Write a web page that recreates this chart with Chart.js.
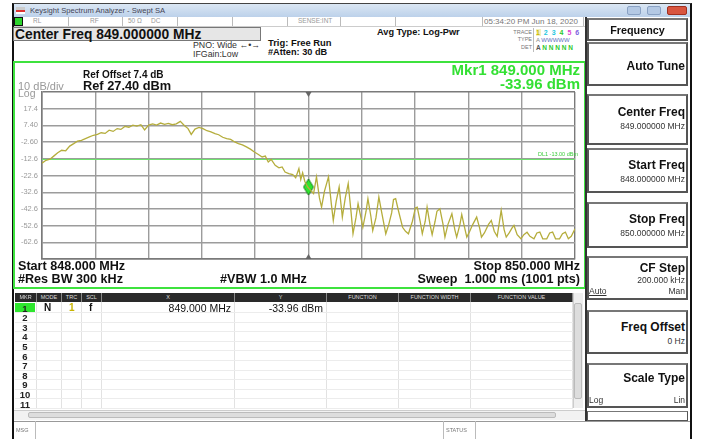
<!DOCTYPE html>
<html lang="en">
<head>
<meta charset="UTF-8">
<script src="https://cdn.jsdelivr.net/npm/chart.js"></script>
<title>Keysight Spectrum Analyzer - Swept SA</title>
<style>
  body { margin:0; width:701px; height:439px; background:#fff; font-family:"Liberation Sans", Arial, sans-serif; position:relative; overflow:hidden; color:#111; }
  .a { position:absolute; white-space:nowrap; line-height:1; }
  .b { font-weight:bold; }
  .r { text-align:right; }
  .box { position:absolute; box-sizing:border-box; }
  .sk { position:absolute; left:587px; width:101px; box-sizing:border-box; border:2px solid #555; border-top-color:#777; background:#fff; }
  .sk .t { position:absolute; right:1px; font-weight:bold; font-size:12px; line-height:1; white-space:nowrap; }
  .sk .v { position:absolute; right:1px; font-size:8.5px; line-height:1; color:#333; white-space:nowrap; }
  .sep { position:absolute; top:17px; height:9px; width:1px; background:#bbb; }
  .st { position:absolute; top:18px; font-size:6.5px; color:#999; line-height:1; white-space:nowrap; }
  .th { position:absolute; top:293px; height:9px; background:#2a2a2a; color:#ddd; font-size:5.5px; line-height:9px; text-align:center; box-sizing:border-box; border-right:1px solid #888; }
  .rn { position:absolute; left:15px; width:20px; text-align:center; font-weight:bold; font-size:9.5px; line-height:1; color:#222; }
  #plot { position:absolute; left:15px; top:63px; }
</style>
</head>
<body>
  <!-- window frame -->
  <div class="box" style="left:12px;top:3px;width:680px;height:436px;border-left:2px solid #111;border-right:2px solid #111;border-top:1px solid #444;"></div>
  <div class="box" style="left:14px;top:4px;width:676px;height:13px;background:linear-gradient(#dbe7f4,#bcd1ea);"></div>
  <div class="box" style="left:16px;top:7px;width:9px;height:7px;background:linear-gradient(#ccc 0 40%,#d33 40% 70%,#fff 70%);"></div>
  <div class="a" style="left:30px;top:7px;font-size:7.6px;color:#445;">Keysight Spectrum Analyzer - Swept SA</div>
  <div class="box" style="left:627px;top:6px;width:14px;height:9px;background:#b4c9e4;border:1px solid #8aa2c4;border-radius:2px;"></div>
  <div class="box" style="left:647px;top:6px;width:14px;height:9px;background:#b4c9e4;border:1px solid #8aa2c4;border-radius:2px;"></div>
  <div class="box" style="left:667px;top:6px;width:20px;height:9px;background:#d8553f;border:1px solid #a03020;border-radius:2px;"></div>

  <!-- status row -->
  <div class="box" style="left:14px;top:17px;width:571px;height:10px;border-bottom:1px solid #ccc;"></div>
  <div class="box" style="left:14px;top:17px;width:9px;height:9px;background:#2dd42d;border:1px solid #111;"></div>
  <div class="st" style="left:33px;">RL</div>
  <div class="sep" style="left:68px;"></div>
  <div class="st" style="left:90px;">RF</div>
  <div class="sep" style="left:122px;"></div>
  <div class="st" style="left:128px;">50 &Omega;</div>
  <div class="st" style="left:151px;">DC</div>
  <div class="sep" style="left:177px;"></div>
  <div class="sep" style="left:232px;"></div>
  <div class="sep" style="left:287px;"></div>
  <div class="st" style="left:298px;">SENSE:INT</div>
  <div class="sep" style="left:340px;"></div>
  <div class="sep" style="left:395px;"></div>
  <div class="sep" style="left:482px;"></div>
  <div class="st" style="left:484px;font-size:8px;top:17.5px;color:#777;">05:34:20 PM Jun 18, 2020</div>
  <div class="sep" style="left:583px;"></div>

  <!-- header line -->
  <div class="box" style="left:13px;top:27px;width:248px;height:14px;background:#e6e6e6;border:1px solid #777;"></div>
  <div class="a b" style="left:15px;top:27.5px;font-size:13.8px;">Center Freq 849.000000 MHz</div>
  <div class="a" style="left:193px;top:41px;font-size:8.8px;color:#333;">PNO: Wide &larr;&bull;&rarr;</div>
  <div class="a" style="left:193px;top:50px;font-size:8.8px;color:#333;">IFGain:Low</div>
  <div class="a b" style="left:268px;top:38px;font-size:9.4px;">Trig: Free Run</div>
  <div class="a b" style="left:268px;top:48px;font-size:9.2px;">#Atten: 30 dB</div>
  <div class="a b" style="left:377px;top:28px;font-size:9.2px;">Avg Type: Log-Pwr</div>
  <div class="a r" style="left:500px;width:32px;top:30px;font-size:5.5px;color:#777;">TRACE</div>
  <div class="a r" style="left:500px;width:32px;top:37px;font-size:5.5px;color:#777;">TYPE</div>
  <div class="a r" style="left:500px;width:32px;top:45px;font-size:5.5px;color:#777;">DET</div>
  <div class="box" style="left:533px;top:28px;width:1px;height:24px;background:#bbb;"></div>
  <div class="a b" style="left:536px;top:29px;font-size:7px;letter-spacing:1px;"><span style="color:#c9b800;background:#f4f0c0;">1</span> <span style="color:#22c8e0;">2</span> <span style="color:#22c8e0;">3</span> <span style="color:#2cc82c;">4</span> <span style="color:#e040d0;">5</span> <span style="color:#8060e0;">6</span></div>
  <div class="a" style="left:536px;top:37px;font-size:6px;color:#888;">A <span style="color:#6070c0;">WWWWW</span></div>
  <div class="a b" style="left:536px;top:45px;font-size:6.5px;color:#555;">A <span style="color:#2cc82c;">N N N N N</span></div>

  <!-- graph panel -->
  <div class="box" style="left:13px;top:61px;width:573px;height:228px;border:2px solid #3ee23e;"></div>
  <canvas id="plot" width="569" height="224"></canvas>
  <div class="a b" style="left:83px;top:70px;font-size:10px;">Ref Offset 7.4 dB</div>
  <div class="a b" style="left:83px;top:80px;font-size:12.8px;">Ref 27.40 dBm</div>
  <div class="a" style="left:18px;top:81px;font-size:11px;color:#999;">10 dB/div</div>
  <div class="a" style="left:18px;top:88px;font-size:10.5px;color:#999;">Log</div>
  <div class="a b r" style="left:380px;width:200px;top:62px;font-size:15px;color:#33e033;">Mkr1 849.000 MHz</div>
  <div class="a b r" style="left:380px;width:200px;top:76px;font-size:15px;color:#33e033;">-33.96 dBm</div>
  <div class="a r" style="left:480px;width:98px;top:152px;font-size:5.5px;color:#3ccc3c;">DL1 -13.00 dBm</div>
  <div class="a b" style="left:18px;top:260px;font-size:12.6px;">Start 848.000 MHz</div>
  <div class="a b" style="left:18px;top:273px;font-size:12.6px;">#Res BW 300 kHz</div>
  <div class="a b" style="left:220px;top:273px;font-size:12.6px;">#VBW 1.0 MHz</div>
  <div class="a b r" style="left:380px;width:200px;top:260px;font-size:12.6px;">Stop 850.000 MHz</div>
  <div class="a b r" style="left:380px;width:200px;top:273px;font-size:12.6px;">Sweep&nbsp; 1.000 ms (1001 pts)</div>

  <!-- marker table -->
  <div id="table"></div>
  <div class="box" style="left:573px;top:293px;width:10px;height:115px;background:#eee;border-left:1px solid #ccc;"></div>
  <div class="box" style="left:574px;top:303px;width:8px;height:96px;background:#ddd;border:1px solid #bbb;border-radius:2px;"></div>
  <div class="box" style="left:14px;top:410px;width:571px;height:10px;background:#f2f2f2;border-top:1px solid #ccc;"></div>
  <div class="box" style="left:28px;top:412px;width:528px;height:6px;background:#ddd;border:1px solid #bbb;border-radius:2px;"></div>
  <div class="box" style="left:14px;top:421px;width:676px;height:18px;border-top:1px solid #999;"></div>
  <div class="a" style="left:16px;top:428px;font-size:5.5px;color:#777;">MSG</div>
  <div class="box" style="left:35px;top:421px;width:1px;height:18px;background:#bbb;"></div>
  <div class="box" style="left:443px;top:421px;width:1px;height:18px;background:#bbb;"></div>
  <div class="a" style="left:446px;top:428px;font-size:5.5px;color:#777;">STATUS</div>
  <div class="box" style="left:475px;top:421px;width:1px;height:18px;background:#bbb;"></div>

  <!-- softkey panel -->
  <div class="box" style="left:585px;top:17px;width:2px;height:404px;background:#333;"></div>
  <div class="sk" style="top:18px;height:23px;"><div class="t" style="left:0;right:0;text-align:center;top:5px;font-size:10.8px;">Frequency</div></div>
  <div class="sk" style="top:42px;height:44px;"><div class="t" style="top:16px;">Auto Tune</div></div>
  <div class="sk" style="top:94px;height:51px;"><div class="t" style="top:10px;">Center Freq</div><div class="v" style="top:26px;">849.000000 MHz</div></div>
  <div class="sk" style="top:148px;height:45px;"><div class="t" style="top:9px;">Start Freq</div><div class="v" style="top:25px;">848.000000 MHz</div></div>
  <div class="sk" style="top:202px;height:46px;"><div class="t" style="top:9px;">Stop Freq</div><div class="v" style="top:25px;">850.000000 MHz</div></div>
  <div class="sk" style="top:256px;height:44px;"><div class="t" style="top:4px;">CF Step</div><div class="v" style="top:18px;">200.000 kHz</div><div class="v" style="top:29px;">Man</div><div class="v" style="top:29px;left:0;right:auto;text-decoration:underline;">Auto</div></div>
  <div class="sk" style="top:310px;height:44px;"><div class="t" style="top:9px;">Freq Offset</div><div class="v" style="top:25px;">0 Hz</div></div>
  <div class="sk" style="top:363px;height:45px;"><div class="t" style="top:7px;">Scale Type</div><div class="v" style="top:31px;">Lin</div><div class="v" style="top:31px;left:0;right:auto;">Log</div></div>
  <div class="sk" style="top:411px;height:10px;border-width:1px;"></div>

<script>
  // trace (MHz / dBm)
  var freqMHz = [
    848.000, 848.015, 848.030, 848.044, 848.059, 848.074, 848.089, 848.104, 848.119, 848.133,
    848.148, 848.163, 848.178, 848.193, 848.208, 848.222, 848.237, 848.252, 848.267, 848.282,
    848.296, 848.311, 848.326, 848.341, 848.356, 848.371, 848.385, 848.400, 848.415, 848.430,
    848.445, 848.460, 848.474, 848.489, 848.504, 848.519, 848.534, 848.548, 848.560, 848.574,
    848.589, 848.604, 848.619, 848.634, 848.649, 848.663, 848.678, 848.693, 848.708, 848.723,
    848.737, 848.752, 848.767, 848.782, 848.797, 848.812, 848.826, 848.838, 848.849, 848.860,
    848.875, 848.889, 848.901, 848.912, 848.926, 848.941, 848.952, 848.964, 848.971, 848.978,
    848.986, 848.997, 849.008, 849.019, 849.030, 849.041, 849.049, 849.060, 849.075, 849.086,
    849.093, 849.104, 849.115, 849.127, 849.138, 849.149, 849.160, 849.167, 849.178, 849.186,
    849.197, 849.204, 849.216, 849.223, 849.234, 849.241, 849.253, 849.264, 849.275, 849.290,
    849.301, 849.312, 849.319, 849.327, 849.338, 849.353, 849.364, 849.375, 849.390, 849.401,
    849.408, 849.419, 849.427, 849.438, 849.445, 849.456, 849.464, 849.475, 849.482, 849.493,
    849.505, 849.512, 849.523, 849.538, 849.549, 849.556, 849.568, 849.575, 849.586, 849.594,
    849.605, 849.616, 849.631, 849.642, 849.649, 849.660, 849.675, 849.686, 849.697, 849.708,
    849.723, 849.734, 849.742, 849.753, 849.764, 849.771, 849.783, 849.797, 849.808, 849.820,
    849.831, 849.846, 849.857, 849.868, 849.879, 849.894, 849.905, 849.916, 849.927, 849.942,
    849.953, 849.964, 849.975, 849.986, 850.000
  ];
  var levelDbm = [
    -15.2, -13.5, -12.8, -11.0, -9.0, -7.5, -7.8, -5.0, -3.5, -2.0,
    -1.5, -0.5, 0.5, 1.5, 2.0, 3.0, 2.6, 4.5, 3.8, 5.5,
    5.0, 6.8, 6.3, 7.5, 7.0, 7.8, 4.7, 7.6, 8.3, 7.6,
    8.8, 8.0, 8.6, 7.8, 8.3, 9.8, 7.3, 5.5, 2.0, 5.2,
    6.2, 5.5, 4.2, 3.5, 2.5, 1.8, 0.3, -0.5, -1.0, -2.5,
    -3.5, -4.3, -5.5, -6.8, -8.5, -10.0, -11.5, -11.0, -14.5, -13.0,
    -16.5, -18.0, -17.5, -20.5, -21.5, -22.0, -24.0, -18.5, -25.0, -21.0,
    -26.0, -29.5, -31.5, -33.4, -23.4, -36.0, -41.5, -32.0, -23.4, -40.0,
    -49.5, -38.0, -29.5, -47.5, -36.0, -27.4, -45.0, -57.5, -48.0, -39.5,
    -48.0, -53.6, -44.0, -36.5, -47.0, -55.6, -48.0, -35.5, -45.0, -57.5,
    -52.0, -45.0, -37.0, -36.5, -44.0, -53.6, -56.0, -57.5, -50.0, -42.0,
    -41.5, -50.0, -57.5, -50.0, -41.5, -52.0, -58.0, -50.0, -44.0, -42.5,
    -52.0, -59.5, -52.0, -45.5, -55.0, -59.5, -52.0, -46.0, -54.0, -59.5,
    -56.0, -52.0, -47.5, -54.0, -59.5, -57.0, -52.0, -49.5, -56.0, -59.0,
    -43.5, -55.0, -59.5, -57.0, -54.0, -52.5, -58.0, -60.5, -58.0, -56.6,
    -59.0, -60.5, -57.0, -56.5, -60.5, -60.5, -57.0, -56.5, -60.5, -60.5,
    -57.5, -56.5, -60.5, -59.0, -54.5
  ];
  var xTicks = [848.0, 848.2, 848.4, 848.6, 848.8, 849.0, 849.2, 849.4, 849.6, 849.8, 850.0];
  var yTicks = [27.4, 17.4, 7.4, -2.6, -12.6, -22.6, -32.6, -42.6, -52.6, -62.6, -72.6];
  var yTickLabels = ['', '17.4', '7.40', '-2.60', '-12.6', '-22.6', '-32.6', '-42.6', '-52.6', '-62.6', ''];
  var displayLineDbm = -13.0;
  var mkrFreq = 849.0;
  var mkrLevel = -29.5;   // where the diamond sits on screen

  var centerFreq = 849.0;

  // marker table
  function buildTable() {
    var t = document.getElementById('table');
    var html = '';
    var cols = [[15, 22, 'MKR'], [37, 25, 'MODE'], [62, 20, 'TRC'], [82, 20, 'SCL'], [102, 133, 'X'],
                [235, 92, 'Y'], [327, 72, 'FUNCTION'], [399, 72, 'FUNCTION WIDTH'], [471, 102, 'FUNCTION VALUE']];
    for (var i = 0; i < cols.length; i++) {
      html += '<div class="th" style="left:' + cols[i][0] + 'px;width:' + cols[i][1] + 'px;">' + cols[i][2] + '</div>';
      html += '<div class="box" style="left:' + (cols[i][0] + cols[i][1] - 1) + 'px;top:302px;width:1px;height:107px;background:#e2e2e2;"></div>';
    }
    for (var r = 1; r <= 11; r++) {
      var y = 303 + (r - 1) * 9.6;
      html += '<div class="box" style="left:15px;top:' + (y + 9) + 'px;width:558px;height:1px;background:#ececec;"></div>';
      html += '<div class="rn" style="top:' + (y + 0.5) + 'px;">' + r + '</div>';
    }
    html += '<div class="box" style="left:15px;top:303px;width:20px;height:9px;background:#2ee62e;"></div>';
    html += '<div class="rn" style="top:303.5px;">1</div>';
    html += '<div class="a b" style="left:44px;top:303px;font-size:10px;">N</div>';
    html += '<div class="a b" style="left:69px;top:303px;font-size:10px;color:#c8b400;">1</div>';
    html += '<div class="a b" style="left:89px;top:303px;font-size:10px;">f</div>';
    html += '<div class="a r" style="left:120px;width:111px;top:303px;font-size:10.5px;">849.000 MHz</div>';
    html += '<div class="a r" style="left:220px;width:103px;top:303px;font-size:10.5px;">-33.96 dBm</div>';
    t.innerHTML = html;
  }
  buildTable();

  // diamond marker glyph
  var dia = document.createElement('canvas');
  dia.width = 12; dia.height = 18;
  var dc = dia.getContext('2d');
  dc.beginPath(); dc.moveTo(6, 1); dc.lineTo(11, 9); dc.lineTo(6, 17); dc.lineTo(1, 9); dc.closePath();
  dc.fillStyle = '#2ee62e'; dc.fill();
  dc.strokeStyle = '#1c7a1c'; dc.lineWidth = 1; dc.stroke();

  var trace = [];
  for (var i = 0; i < freqMHz.length; i++) trace.push({ x: freqMHz[i], y: levelDbm[i] });

  var centerTriangles = {
    id: 'centerTriangles',
    afterDraw: function (chart) {
      var c = chart.ctx, a = chart.chartArea;
      var x = chart.scales.x.getPixelForValue(centerFreq);
      c.save();
      c.fillStyle = '#666';
      c.beginPath(); c.moveTo(x - 3, a.top); c.lineTo(x + 3, a.top); c.lineTo(x, a.top + 5); c.fill();
      c.beginPath(); c.moveTo(x - 3, a.bottom); c.lineTo(x + 3, a.bottom); c.lineTo(x, a.bottom - 5); c.fill();
      c.restore();
    }
  };

  function gridColor(ctx) {
    return (ctx.index === 0 || ctx.index === 10) ? '#7a7a7a' : '#9c9c9c';
  }

  new Chart(document.getElementById('plot').getContext('2d'), {
    type: 'line',
    data: {
      datasets: [
        { data: trace, borderColor: '#b5ad3c', borderWidth: 1.3, pointRadius: 0, tension: 0 },
        { data: [{ x: 848, y: displayLineDbm }, { x: 850, y: displayLineDbm }], borderColor: '#6ae66a', borderWidth: 1, pointRadius: 0 },
        { data: [{ x: mkrFreq, y: mkrLevel }], showLine: false, pointStyle: dia, pointRadius: 8 }
      ]
    },
    options: {
      responsive: false,
      animation: false,
      layout: { padding: { left: 0, top: 29, right: 2, bottom: 28 } },
      plugins: { legend: { display: false }, tooltip: { enabled: false } },
      scales: {
        x: {
          type: 'linear', min: 848, max: 850,
          afterBuildTicks: function (s) { s.ticks = xTicks.map(function (v) { return { value: v }; }); },
          ticks: { display: false },
          grid: { color: gridColor, lineWidth: 1.4, drawTicks: false },
          border: { color: '#7a7a7a', width: 1.5 }
        },
        y: {
          min: -72.6, max: 27.4,
          afterBuildTicks: function (s) { s.ticks = yTicks.map(function (v) { return { value: v }; }); },
          afterFit: function (s) { s.width = 27; },
          ticks: {
            padding: 4, color: '#9a9a9a', font: { family: 'Liberation Sans', size: 7.5 },
            callback: function (v, i) { return yTickLabels[i]; }
          },
          grid: { color: gridColor, lineWidth: 1.4, drawTicks: false },
          border: { color: '#7a7a7a', width: 1.5 }
        }
      }
    },
    plugins: [centerTriangles]
  });
</script>
</body>
</html>
